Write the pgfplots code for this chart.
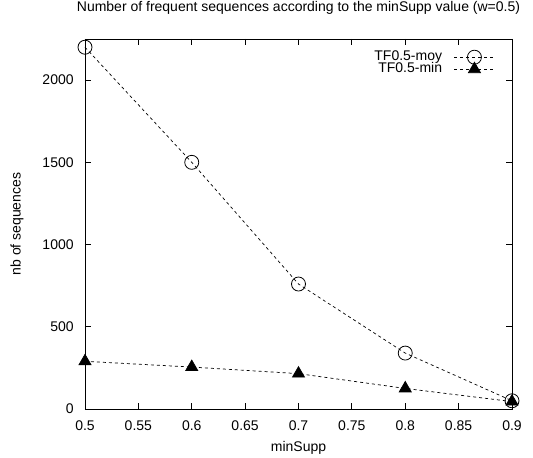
\documentclass[border=0pt]{standalone}
\usepackage{pgfplots}
\pgfplotsset{compat=1.18}
\usepackage{fontspec}
\setmainfont{Liberation Sans}
\begin{document}
\fontsize{14}{16}\selectfont
\begin{tikzpicture}
\useasboundingbox (-85pt,-49pt) rectangle (448pt,409pt);
\begin{axis}[
  at={(0pt,0pt)}, anchor=south west,
  scale only axis, width=427pt, height=370pt,
  xmin=0.5, xmax=0.9, ymin=0, ymax=2250,
  xtick={0.5,0.55,0.6,0.65,0.7,0.75,0.8,0.85,0.9},
  xticklabels={0.5,0.55,0.6,0.65,0.7,0.75,0.8,0.85,0.9},
  ytick={0,500,1000,1500,2000},
  /pgf/number format/1000 sep={},
  /pgf/number format/assume math mode=true,
  tick align=inside, major tick length=6pt,
  every tick/.style={black, line width=0.8pt},
  axis line style={line width=0.8pt},
  yticklabel style={xshift=-6.5pt},
  xticklabel style={yshift=-6.4pt},
  title={Number of frequent sequences according to the minSupp value (w=0.5)},
  title style={at={(axis description cs:0.5,1.0676)}, anchor=center, inner sep=0pt},
  xlabel={minSupp},
  xlabel style={at={(axis description cs:0.5,-0.105)}, anchor=center, inner sep=0pt},
  ylabel={nb of sequences},
  ylabel style={at={(axis description cs:-0.159,0.5)}, anchor=center, inner sep=0pt, rotate=0},
  clip=false,
  legend plot pos=right,
  legend cell align=right,
  legend image code/.code={
    \draw[#1, mark=none] (0pt,0pt) -- (40pt,0pt);
    \path[#1, solid] plot coordinates {(20pt,0pt)};
  },
  legend style={draw=none, fill=none, inner sep=0pt,
    at={(axis description cs:1,1)}, anchor=north east,
    xshift=-17pt, yshift=-11pt,
    nodes={inner sep=0pt, text height=10pt, text depth=3pt},
    row sep=-2pt, column sep=12pt},
]
\addplot[black, line width=0.7pt, dash pattern=on 3pt off 3pt,
  mark=o, mark size=7pt, mark options={solid, line width=0.8pt}]
  coordinates {(0.5,2200) (0.6,1500) (0.7,760) (0.8,340) (0.9,50)};
\addlegendentry{TF0.5-moy}
\addplot[black, line width=0.7pt, dash pattern=on 3pt off 3pt,
  mark=triangle*, mark size=7pt, mark options={solid, fill=black}]
  coordinates {(0.5,290) (0.6,255) (0.7,215) (0.8,125) (0.9,45)};
\addlegendentry{TF0.5-min}
\end{axis}
\end{tikzpicture}
\end{document}
